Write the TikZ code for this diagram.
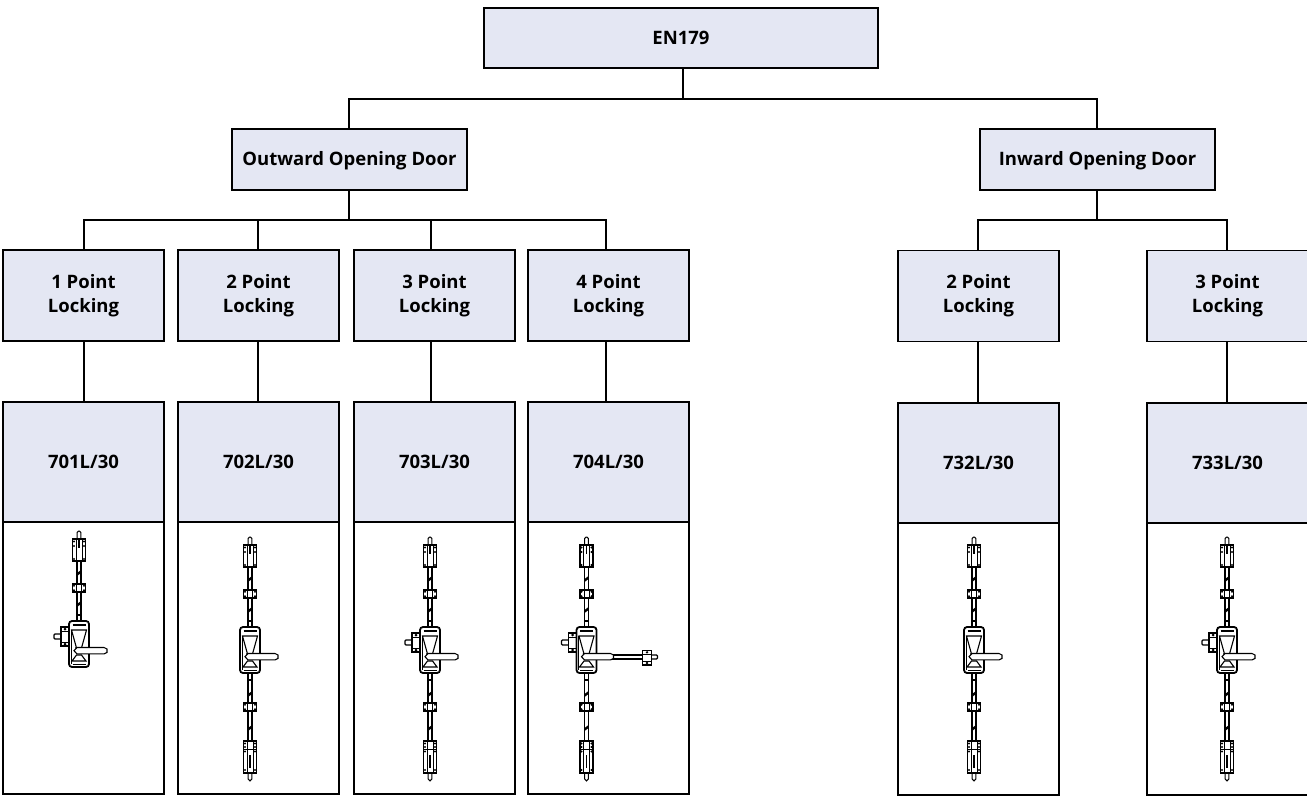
\documentclass[tikz,border=0pt]{standalone}
\usepackage{fontspec}
\usetikzlibrary{calc}
\setmainfont{Open Sans}
\definecolor{boxfill}{RGB}{228,231,243}
\tikzset{
  x=1pt,y=-1pt,
  wire/.style={line width=1.7pt,black},
  headbox/.style={draw=black,line width=1.7pt,fill=boxfill,inner sep=0pt,align=center,
    font=\fontsize{18.5}{24}\selectfont\bfseries},
  oneline/.style={headbox,text height=13pt,text depth=0pt},
  photobox/.style={draw=black,line width=1.7pt,fill=white,inner sep=0pt},
  ink/.style={draw=black,line width=1.1pt,fill=white},
  thin ink/.style={draw=black,line width=0.8pt},
  lockcase/.pic={
    \draw[draw=black,line width=1.8pt,fill=white,rounded corners=3pt] (-10,-23) rectangle (10,23);
    \draw[line width=1.2pt] (-6.5,-19) -- (6.5,-19);
    \draw[line width=1.1pt] (-7.5,-14) -- (7.5,-14) -- (2.5,4) -- (-2.5,4) -- cycle;
    \draw[line width=1pt] (-8,-14) -- (-8,20);
    \fill (-3.5,3) -- (3.5,3) -- (4,8) -- (-4,8) -- cycle;
    \draw[line width=1.1pt] (-7,17) -- (-2.5,11) -- (2.5,11) -- (7,17) -- cycle;
    \draw[line width=1.2pt] (-6.5,20.5) -- (6.5,20.5);
  },
  handlebar/.pic={
    \draw[ink] (-2,3.5) -- (#1-3,3.5) -- (#1,5) -- (#1,8.4) -- (#1-3,9.9) -- (-2,9.9) -- (-5,6.7) -- cycle;
  },
  sideplate/.pic={
    \draw[ink,rounded corners=1pt] (-25,-10) rectangle (-17,-5);
    \draw[ink] (-18,-17) rectangle (-10,2);
    \draw[thin ink] (-18,-13) -- (-10,-13) (-18,-2) -- (-10,-2);
    \fill (-14,-15) circle (1.5pt) (-14,0) circle (1.5pt);
  },
  keeper/.pic={
    \draw[ink] (-6.5,-4) rectangle (6.5,4);
    \fill (-5,-2.3) circle (1.2pt) (5,-2.3) circle (1.2pt) (-5,2.3) circle (1.2pt) (5,2.3) circle (1.2pt);
    \draw[thin ink] (-2.5,-4) rectangle (2.5,4);
  },
  topbolt/.pic={
    \draw[line width=1pt,fill=white,rounded corners=1.4pt] (-1.8,-8) rectangle (1.8,2);
    \draw[ink,line width=1.3pt] (-6.5,0) rectangle (6.5,22);
    \draw[thin ink] (-3,0) -- (-3,22) (3,0) -- (3,22);
    \fill (-5,2.5) circle (1.2pt) (5,2.5) circle (1.2pt) (-5,7) circle (1.2pt) (5,7) circle (1.2pt) (-5,20) circle (1.2pt) (5,20) circle (1.2pt);
    \draw[line width=1.6pt] (0,-1) -- (0,9);
  },
  botbolt/.pic={
    \draw[line width=1pt,fill=white] (-1.8,30) -- (-1.8,38) -- (0,40) -- (1.8,38) -- (1.8,30) -- cycle;
    \draw[ink,line width=1.3pt] (-6.5,0) rectangle (6.5,32);
    \draw[thin ink] (-3,0) -- (-3,32) (3,0) -- (3,32) (-6.5,8) -- (6.5,8);
    \fill (-5,2.5) circle (1.2pt) (5,2.5) circle (1.2pt) (-5,6) circle (1.2pt) (5,6) circle (1.2pt) (-5,10.5) circle (1.2pt) (5,10.5) circle (1.2pt) (-5,29) circle (1.2pt) (5,29) circle (1.2pt);
    \draw[line width=1.6pt] (0,14) -- (0,27);
  },
  armbolt/.pic={
    \draw[ink] (24,5) rectangle (57,9);
    \draw[ink,rounded corners=1pt] (64,5) rectangle (71,9);
    \draw[ink] (56,0.5) rectangle (65,15);
    \draw[thin ink] (56,4) -- (65,4) (56,11) -- (65,11);
    \fill (60.5,2.3) circle (1.3pt) (60.5,13) circle (1.3pt);
  }
}
\newcommand{\upperrod}{
  \draw[line width=1.1pt,fill=white] (-2,-84) rectangle (2,-23);
  \fill (-2,-71) -- (2,-74) -- (2,-71) -- (-2,-68) -- cycle;
  \fill (-2,-40) -- (2,-43) -- (2,-40) -- (-2,-37) -- cycle;
  \draw[line width=1.1pt] (-2,-29) -- (2,-29);
  \pic at (0,-56) {keeper};
  \pic at (0,-105) {topbolt};
}
\newcommand{\lowerrod}{
  \draw[line width=1.1pt,fill=white] (-2,23) rectangle (2,92);
  \draw[line width=1.1pt] (-2,30) -- (2,30);
  \fill (-2,44) -- (2,41) -- (2,44) -- (-2,47) -- cycle;
  \fill (-2,78) -- (2,75) -- (2,78) -- (-2,81) -- cycle;
  \pic at (0,57) {keeper};
  \pic at (0,91) {botbolt};
}
\begin{document}
\begin{tikzpicture}
\useasboundingbox (0,0) rectangle (1307,797);
\clip (0,0) rectangle (1307,797);
\node[oneline,minimum width=394pt,minimum height=60pt] (en) at (681,38) {EN179};
\node[oneline,minimum width=235pt,minimum height=61pt] (out) at (349.5,159.5) {Outward Opening Door};
\node[oneline,minimum width=235pt,minimum height=61pt] (inw) at (1097.5,159.5) {Inward Opening Door};
\foreach \n/\cx/\t in {l1/83.5/1,l2/258.5/2,l3/434.5/3,l4/608.5/4}{
  \node[headbox,minimum width=161pt,minimum height=91pt] (\n) at (\cx,295.5) {\t{} Point\\Locking};
}
\foreach \n/\cx/\t in {l5/978.5/2,l6/1227.5/3}{
  \node[headbox,minimum width=161pt,minimum height=91pt] (\n) at (\cx,296) {\t{} Point\\Locking};
}
\node[oneline,minimum width=161pt,minimum height=120pt] (m1) at (83.5,462) {701L/30};
\node[oneline,minimum width=161pt,minimum height=120pt] (m2) at (258.5,462) {702L/30};
\node[oneline,minimum width=161pt,minimum height=120pt] (m3) at (434.5,462) {703L/30};
\node[oneline,minimum width=161pt,minimum height=120pt] (m4) at (608.5,462) {704L/30};
\node[oneline,minimum width=161pt,minimum height=120pt] (m5) at (978.5,463) {732L/30};
\node[oneline,minimum width=161pt,minimum height=120pt] (m6) at (1227.5,463) {733L/30};
\node[photobox,minimum width=161pt,minimum height=272pt] (p1) at (83.5,658) {};
\node[photobox,minimum width=161pt,minimum height=272pt] (p2) at (258.5,658) {};
\node[photobox,minimum width=161pt,minimum height=272pt] (p3) at (434.5,658) {};
\node[photobox,minimum width=161pt,minimum height=272pt] (p4) at (608.5,658) {};
\node[photobox,minimum width=161pt,minimum height=272pt] (p5) at (978.5,659) {};
\node[photobox,minimum width=161pt,minimum height=272pt] (p6) at (1227.5,659) {};
% connectors, at whole pixel positions
\coordinate (b0) at (683,99);
\draw[wire] ([xshift=2pt]en.south) -- (b0);
\draw[wire] ([xshift=-.5pt]out.north) |- (b0) -| ([xshift=-.5pt]inw.north);
\coordinate (b1) at (349,220);
\draw[wire] ([xshift=-.5pt]out.south) -- (b1);
\draw[wire] ([xshift=.5pt]l1.north) |- (b1);
\draw[wire] (b1) -| ([xshift=-2.5pt]l4.north);
\draw[wire] ([xshift=-.5pt]l2.north) -- ++(0,-30);
\draw[wire] ([xshift=-3.5pt]l3.north) -- ++(0,-30);
\coordinate (b2) at (1097,220);
\draw[wire] ([xshift=-.5pt]inw.south) -- (b2);
\draw[wire] ([xshift=-.5pt]l5.north) |- (b2) -| ([xshift=-.5pt]l6.north);
\draw[wire] ([xshift=.5pt]l1.south) -- ([xshift=.5pt]m1.north);
\draw[wire] ([xshift=-.5pt]l2.south) -- ([xshift=-.5pt]m2.north);
\draw[wire] ([xshift=-3.5pt]l3.south) -- ([xshift=-3.5pt]m3.north);
\draw[wire] ([xshift=-2.5pt]l4.south) -- ([xshift=-2.5pt]m4.north);
\draw[wire] ([xshift=-.5pt]l5.south) -- ([xshift=-.5pt]m5.north);
\draw[wire] ([xshift=-.5pt]l6.south) -- ([xshift=-.5pt]m6.north);
% lock drawings
\begin{scope}[shift={(79,644)}]
  \upperrod \pic {sideplate}; \pic {lockcase}; \pic {handlebar=28};
\end{scope}
\begin{scope}[shift={(250,650)}]
  \upperrod \lowerrod \pic {lockcase}; \pic {handlebar=28};
\end{scope}
\begin{scope}[shift={(430,650)}]
  \upperrod \lowerrod \pic {sideplate}; \pic {lockcase}; \pic {handlebar=28};
\end{scope}
\begin{scope}[shift={(586.5,650)}]
  \upperrod \lowerrod \pic {sideplate}; \pic {armbolt}; \pic {lockcase}; \pic {handlebar=27};
\end{scope}
\begin{scope}[shift={(974,650)}]
  \upperrod \lowerrod \pic {lockcase}; \pic {handlebar=28};
\end{scope}
\begin{scope}[shift={(1227,650)}]
  \upperrod \lowerrod \pic {sideplate}; \pic {lockcase}; \pic {handlebar=28};
\end{scope}
\end{tikzpicture}
\end{document}
